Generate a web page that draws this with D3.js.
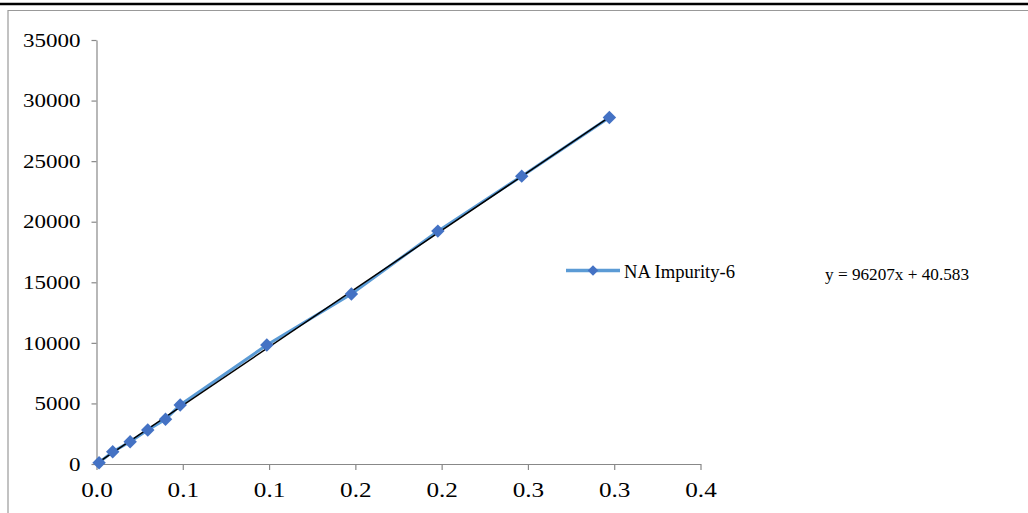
<!DOCTYPE html>
<html><head><meta charset="utf-8">
<script src="https://cdn.jsdelivr.net/npm/d3@7"></script>
<style>body{margin:0;background:#fff}svg{display:block}</style>
</head><body>
<script>
const seriesName = "NA Impurity-6";
const concentration = [0.0015, 0.0094, 0.0195, 0.0297, 0.0400, 0.0485, 0.0987, 0.1477, 0.1978, 0.2464, 0.2972];
const response = [107, 1015, 1840, 2805, 3688, 4868, 9818, 14026, 19224, 23762, 28605];
const xTicks = [0, 0.05, 0.1, 0.15, 0.2, 0.25, 0.3, 0.35];
const xTickLabels = ["0.0", "0.1", "0.1", "0.2", "0.2", "0.3", "0.3", "0.4"];
const yTicks = [0, 5000, 10000, 15000, 20000, 25000, 30000, 35000];
const slope = 96207, intercept = 40.583;
const equationLabel = "y = 96207x + 40.583";

const W = 1028, H = 513;
const svg = d3.select("body").append("svg").attr("width", W).attr("height", H);
const font = "'Liberation Serif','Times New Roman',serif";

// frame
svg.append("line").attr("x1",0).attr("x2",W).attr("y1",4).attr("y2",4).attr("stroke","#000").attr("stroke-width",2.5);
svg.append("line").attr("x1",8).attr("x2",W).attr("y1",10.5).attr("y2",10.5).attr("stroke","#999").attr("stroke-width",1.2);
svg.append("line").attr("x1",8).attr("x2",8).attr("y1",10).attr("y2",H).attr("stroke","#999").attr("stroke-width",1.2);

const x = d3.scaleLinear().domain([0, 0.35]).range([96.5, 700.5]);
const y = d3.scaleLinear().domain([0, 35000]).range([464, 40]);

const xAxis = svg.append("g").attr("transform","translate(0,464)")
  .call(d3.axisBottom(x).tickValues(xTicks).tickFormat((d,i)=>xTickLabels[i]).tickSize(6).tickSizeOuter(0));
const yAxis = svg.append("g").attr("transform","translate(96.5,0)")
  .call(d3.axisLeft(y).tickValues(yTicks).tickFormat(d3.format("d")).tickSize(5).tickSizeOuter(0));
[xAxis, yAxis].forEach(g => {
  g.attr("font-family", font);
  g.select(".domain").attr("stroke","#888").attr("stroke-width",1.2);
  g.selectAll(".tick line").attr("stroke","#888").attr("stroke-width",1.2);
  g.selectAll("text").attr("fill","#000");
});
const sx = 1.2;
xAxis.attr("font-size", 21);
xAxis.selectAll("text").attr("y",33).attr("dy",0).attr("transform",`scale(${sx},1)`);
yAxis.attr("font-size", 19.2);
yAxis.selectAll("text").attr("x",-16/sx).attr("transform",`scale(${sx},1)`);

const pts = concentration.map((c,i)=>[c, response[i]]);
// data line
svg.append("path").datum(pts)
  .attr("fill","none").attr("stroke","#5B9BD5").attr("stroke-width",3)
  .attr("d", d3.line().x(d=>x(d[0])).y(d=>y(d[1])));
// trendline
const x0 = d3.min(concentration), x1 = d3.max(concentration);
svg.append("line")
  .attr("x1", x(x0)).attr("y1", y(slope*x0+intercept))
  .attr("x2", x(x1)).attr("y2", y(slope*x1+intercept))
  .attr("stroke","#000").attr("stroke-width",1.5);
// markers
const diamond = d3.symbol().type(d3.symbolDiamond2).size(115);
svg.append("g").selectAll("path").data(pts).join("path")
  .attr("d", diamond)
  .attr("transform", d=>`translate(${x(d[0])},${y(d[1])})`)
  .attr("fill","#4472C4");

// legend
const lg = svg.append("g");
lg.append("line").attr("x1",566).attr("x2",620).attr("y1",270.5).attr("y2",270.5)
  .attr("stroke","#5B9BD5").attr("stroke-width",3.5);
lg.append("path").attr("d", d3.symbol().type(d3.symbolDiamond2).size(70)).attr("transform","translate(593,270.5)").attr("fill","#4472C4");
lg.append("text").attr("x",624).attr("y",278).attr("font-family",font).attr("font-size",18.6).text(seriesName);
svg.append("text").attr("x",825).attr("y",280).attr("font-family",font).attr("font-size",17.2).text(equationLabel);
</script>
</body></html>
